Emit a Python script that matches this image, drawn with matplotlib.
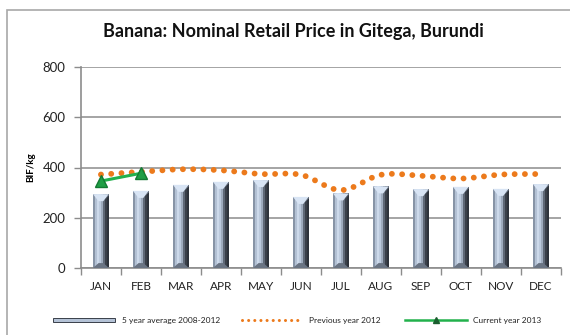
import numpy as np
import matplotlib.pyplot as plt
from matplotlib.patches import Rectangle
from matplotlib.lines import Line2D

plt.rcParams['font.family'] = ['Lato', 'DejaVu Sans']

months = ['JAN', 'FEB', 'MAR', 'APR', 'MAY', 'JUN', 'JUL', 'AUG', 'SEP', 'OCT', 'NOV', 'DEC']
avg_5yr = [294, 307, 331, 343, 350, 283, 297, 325, 314, 323, 315, 334]
prev_2012 = [372, 383, 393, 389, 374, 371, 310, 371, 367, 356, 372, 374]
curr_2013 = [346, 377]

title = 'Banana: Nominal Retail Price in Gitega, Burundi'
labels = ['5 year average 2008-2012', 'Previous year 2012', 'Current year 2013']

ORANGE = '#ec7a1c'
GREEN = '#22b14c'


def catmull_rom(x, y, steps=24):
    # smoothed line through the monthly points (like a spreadsheet "smoothed line")
    x = np.asarray(x, float)
    y = np.asarray(y, float)
    px = np.concatenate([[2 * x[0] - x[1]], x, [2 * x[-1] - x[-2]]])
    py = np.concatenate([[2 * y[0] - y[1]], y, [2 * y[-1] - y[-2]]])
    xs, ys = [], []
    t = np.linspace(0, 1, steps, endpoint=False)
    for i in range(1, len(px) - 2):
        for p, out in ((px, xs), (py, ys)):
            p0, p1, p2, p3 = p[i - 1], p[i], p[i + 1], p[i + 2]
            out.extend(0.5 * (2 * p1 + (-p0 + p2) * t
                              + (2 * p0 - 5 * p1 + 4 * p2 - p3) * t ** 2
                              + (-p0 + 3 * p1 - 3 * p2 + p3) * t ** 3))
    xs.append(x[-1])
    ys.append(y[-1])
    return np.array(xs), np.array(ys)


fig = plt.figure(figsize=(5.7, 3.35), dpi=100)
ax = fig.add_axes([0.142, 0.2, 0.842, 0.6])

x = np.arange(len(months))
avg = np.array(avg_5yr)

# bars drawn as vertical strips to get the shaded prism look
w = 0.4
strip_cols = ['#8794a6', '#b3c1d4', '#ccd9ea', '#bccadd', '#9eabbd', '#5f6876', '#3a404a', '#2e333b']
n = len(strip_cols)
for k, c in enumerate(strip_cols):
    off = -w / 2 + (k + 0.5) * w / n
    ax.bar(x + off, avg, width=w / n + 0.002, color=c, linewidth=0, zorder=2)

# bevelled top and bottom of each bar
bev = 28
for xi, v in zip(x, avg):
    l, r, m = xi - w / 2, xi + w / 2, xi
    ax.fill([l, r, m + 0.06, m - 0.06], [v, v, v - bev, v - bev], color='#d8e4f4', lw=0, zorder=3)
    ax.fill([m + 0.06, r, r], [v - bev, v, v - bev * 0.2], color='#6f7a8a', lw=0, zorder=3)
    ax.fill([l, r, m + 0.06, m - 0.06], [0, 0, bev * 0.7, bev * 0.7], color='#6a7483', lw=0, zorder=3)

sx, sy = catmull_rom(x, prev_2012)
ax.plot(sx, sy, color=ORANGE, lw=4.2, linestyle=(0, (0.01, 1.75)),
        dash_capstyle='round', zorder=4)

ax.plot(x[:len(curr_2013)], curr_2013, color=GREEN, lw=2.2, marker='^',
        markersize=9, markerfacecolor='#1f9e45', markeredgecolor='#137a32', zorder=5)

ax.set_xlim(-0.5, 11.5)
ax.set_ylim(0, 800)
ax.set_yticks([0, 200, 400, 600, 800])
ax.yaxis.grid(True, color='#8c8c8c', lw=1.1)
ax.set_axisbelow(True)

ax.set_xticks(np.arange(-0.5, 12, 1))
ax.set_xticklabels([])
ax.set_xticks(x, minor=True)
ax.set_xticklabels(months, minor=True)
ax.tick_params(axis='x', which='major', length=5, color='#8c8c8c', width=1)
ax.tick_params(axis='x', which='minor', length=0, pad=9, labelsize=8.5, labelcolor='#222222')
ax.tick_params(axis='y', length=5, color='#8c8c8c', width=1, labelsize=9.5, labelcolor='#222222', pad=6)

for s in ['top', 'right']:
    ax.spines[s].set_visible(False)
for s in ['left', 'bottom']:
    ax.spines[s].set_color('#8c8c8c')
    ax.spines[s].set_linewidth(1.2)

ax.set_ylabel('BIF/kg', fontsize=7, fontweight='bold', labelpad=5)

fig.text(0.515, 0.905, title, ha='center', va='center', fontsize=13, fontweight='bold', color='#111111')

# outer chart frame
fig.add_artist(Rectangle((7 / 570, -0.05), 1.0, 1 - 10 / 335 + 0.05, transform=fig.transFigure,
                         fill=False, edgecolor='#a8a8a8', lw=1.2))

# legend row along the bottom, laid out in pixel positions
W, H = 570.0, 335.0
ly = 1 - 320 / H
fig.add_artist(Rectangle((53 / W, ly - 2 / H), 62 / W, 4 / H, transform=fig.transFigure,
                         facecolor='#b4c2d6', edgecolor='#3a404a', lw=0.7))
fig.add_artist(Line2D([242 / W, 301 / W], [ly, ly], transform=fig.transFigure, color=ORANGE,
                      lw=2.2, linestyle=(0, (0.01, 2.0)), dash_capstyle='round'))
fig.add_artist(Line2D([405 / W, 467 / W], [ly, ly], transform=fig.transFigure, color=GREEN, lw=1.8))
fig.add_artist(Line2D([436 / W], [ly], transform=fig.transFigure, marker='^', markersize=5,
                      color='#1b5e2f', lw=0))
for tx, lab in zip([122, 309, 473], labels):
    fig.text(tx / W, ly, lab, ha='left', va='center', fontsize=6, color='#222222')

fig.savefig('out.png', dpi=100)
